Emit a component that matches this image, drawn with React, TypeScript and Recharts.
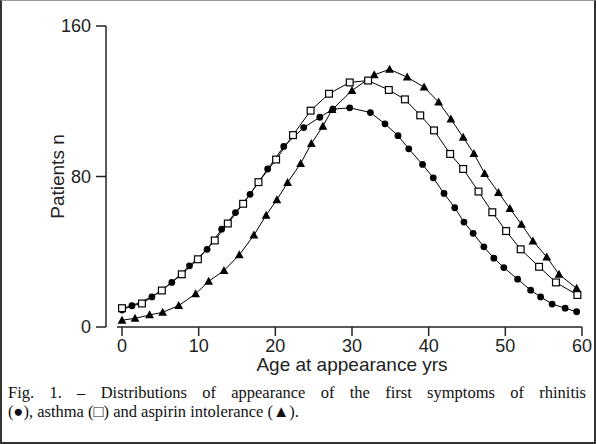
import React from 'react'
import { LineChart, Line, XAxis, YAxis, ReferenceLine } from 'recharts'

// values (age in years, patients n)
const rhinitisAge = [0, 1.3, 3.9, 6.5, 8.8, 11.1, 13.0, 14.8, 16.7, 19.0, 21.1, 23.7, 25.8, 27.5, 29.7, 32.4, 34.3, 36.0, 37.4, 39.2, 40.6, 42.0, 43.4, 44.6, 45.8, 47.2, 48.5, 49.8, 51.6, 53.3, 54.6, 56.1, 57.8, 59.3]
const rhinitisPatients = [9, 11.3, 16, 23.7, 32.5, 41.3, 52, 60.8, 70.5, 84, 96, 106, 111.5, 115.8, 116.5, 114, 108, 101.7, 94.7, 86.4, 79.3, 71, 63.4, 55.8, 49.8, 42.6, 36.6, 31.6, 25.4, 19.6, 16, 12.2, 10, 8.1]

const asthmaAge = [0, 2.6, 5.2, 7.8, 9.9, 12.1, 13.8, 15.8, 17.8, 20.1, 22.3, 24.6, 27.0, 29.7, 32.1, 34.8, 36.9, 38.9, 40.7, 42.8, 44.5, 46.5, 48.3, 50.1, 52.0, 54.4, 56.6, 59.4]
const asthmaPatients = [10, 12.5, 19.4, 28, 36, 46, 55, 65.5, 77, 89, 102, 115, 124, 130, 131, 126, 121, 112.5, 104.5, 92, 84, 72, 61, 51, 41.3, 32, 23.7, 17]

const aspirinAge = [0, 1.7, 3.6, 5.3, 7.4, 9.6, 11.3, 13.3, 15.3, 17.2, 18.8, 20.2, 21.6, 23.3, 24.7, 26.2, 27.4, 30.0, 32.9, 34.9, 37.2, 39.4, 41.3, 42.9, 44.5, 45.9, 47.3, 49.1, 50.6, 52.1, 53.6, 55.4, 57.0, 59.3]
const aspirinPatients = [3.6, 4.6, 6.4, 7.8, 11.4, 17.6, 24.3, 30, 38.3, 48.8, 59.4, 67.6, 76.8, 86.9, 97.5, 106.7, 115.5, 125.7, 134, 137, 132.8, 127.5, 119.5, 110.5, 100.8, 92.2, 81.6, 71.5, 62.9, 54.6, 45.7, 37.2, 28, 20.5]

const xTicks = [0, 10, 20, 30, 40, 50, 60]
const yTicks = [0, 80, 160]

const toPoints = (xs: number[], ys: number[]) => xs.map((x, i) => ({ age: x, n: ys[i] }))

const rhinitis = toPoints(rhinitisAge, rhinitisPatients)
const asthma = toPoints(asthmaAge, asthmaPatients)
const aspirin = toPoints(aspirinAge, aspirinPatients)

const axisFont = '"Liberation Sans", Arial, sans-serif'

const CircleDot = (props: any) => {
  const { cx, cy, index } = props
  return <circle key={`c${index}`} cx={cx} cy={cy} r={3.4} fill="#000" />
}

const SquareDot = (props: any) => {
  const { cx, cy, index } = props
  return <rect key={`s${index}`} x={cx - 3.4} y={cy - 3.4} width={6.8} height={6.8} fill="#fff" stroke="#000" strokeWidth={1.2} />
}

const TriangleDot = (props: any) => {
  const { cx, cy, index } = props
  return <polygon key={`t${index}`} points={`${cx},${cy - 4.6} ${cx + 4.4},${cy + 3.4} ${cx - 4.4},${cy + 3.4}`} fill="#000" />
}

export default function App() {
  return (
    <div style={{ position: 'absolute', left: 0, top: 0, width: 596, height: 444, background: '#fff' }}>
      <LineChart width={596} height={380} margin={{ top: 26, right: 14, left: 56, bottom: 23 }}>
        <XAxis
          dataKey="age"
          type="number"
          domain={[0, 60]}
          ticks={xTicks}
          padding={{ left: 16, right: 0 }}
          axisLine={false}
          tickLine={{ stroke: '#222', strokeWidth: 1.5 }}
          tickSize={9}
          tickMargin={3}
          height={30}
          tick={{ fill: '#222', fontSize: 18, fontFamily: axisFont }}
          label={{ value: 'Age at appearance  yrs', position: 'bottom', offset: 1, dx: 8, fill: '#222', fontSize: 19, fontFamily: axisFont }}
        />
        <YAxis
          type="number"
          domain={[0, 160]}
          ticks={yTicks}
          width={50}
          axisLine={{ stroke: '#222', strokeWidth: 1.5 }}
          tickLine={{ stroke: '#222', strokeWidth: 1.5 }}
          tickSize={10}
          tickMargin={5}
          tick={{ fill: '#222', fontSize: 18, fontFamily: axisFont }}
          label={{ value: 'Patients n', angle: -90, position: 'insideLeft', offset: 1, fill: '#222', fontSize: 19, fontFamily: axisFont, style: { textAnchor: 'middle' } }}
        />
        <ReferenceLine
          segment={[{ x: -0.65, y: 0 }, { x: 60, y: 0 }]}
          ifOverflow="visible"
          stroke="#222"
          strokeWidth={1.5}
        />
        <Line data={aspirin} dataKey="n" type="linear" stroke="#000" strokeWidth={1} dot={TriangleDot} isAnimationActive={false} />
        <Line data={rhinitis} dataKey="n" type="linear" stroke="#000" strokeWidth={1} dot={CircleDot} isAnimationActive={false} />
        <Line data={asthma} dataKey="n" type="linear" stroke="#000" strokeWidth={1} dot={SquareDot} isAnimationActive={false} />
      </LineChart>
      <div style={{ position: 'absolute', left: 8, top: 383, width: 578, fontFamily: '"Liberation Serif", "Times New Roman", serif', fontSize: 16.5, lineHeight: '19px', color: '#111' }}>
        <div style={{ textAlign: 'justify', textAlignLast: 'justify', whiteSpace: 'nowrap' }}>
          Fig. 1. – Distributions of appearance of the first symptoms of rhinitis
        </div>
        <div>(●), asthma (□) and aspirin intolerance (▲).</div>
      </div>
      <div style={{ position: 'absolute', left: 0, top: 0, width: 596, height: 444, boxSizing: 'border-box', border: '2px solid #333', borderTop: '1px solid #999', pointerEvents: 'none' }} />
    </div>
  )
}
